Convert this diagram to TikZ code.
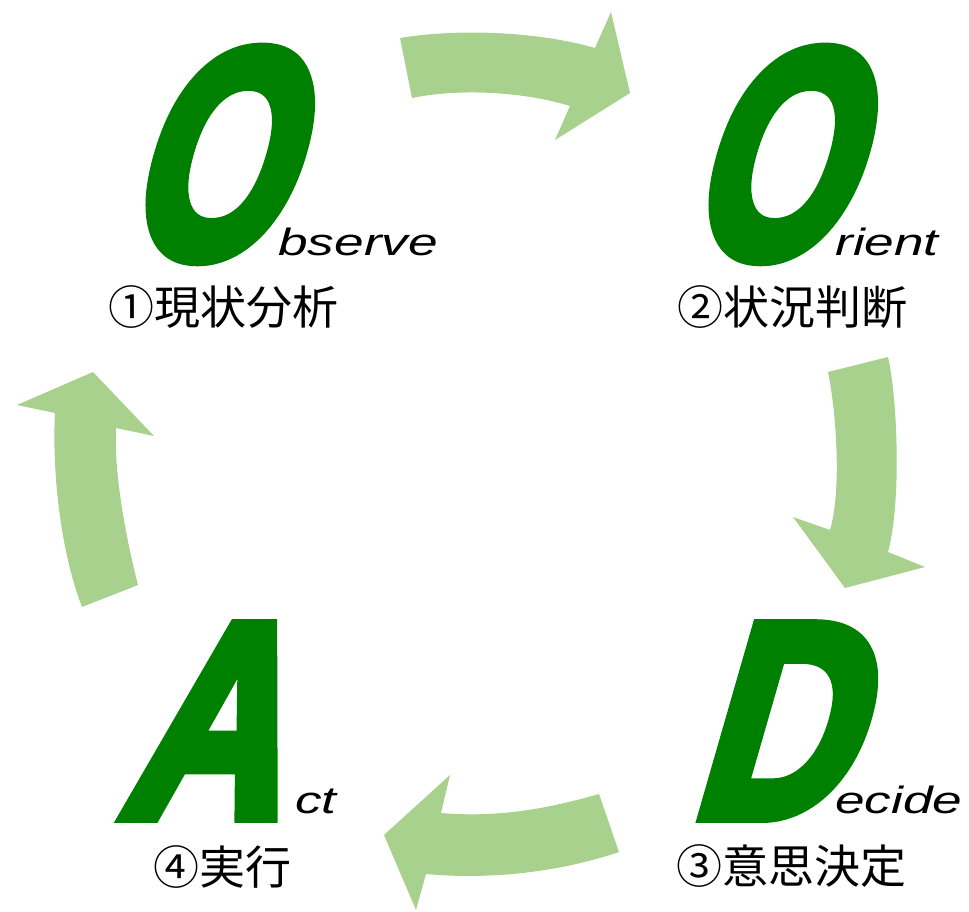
\documentclass[tikz,border=0pt]{standalone}
\usepackage{fontspec}
\setmainfont{Liberation Sans}
\newfontfamily\jpfont{Noto Sans CJK JP}
\newfontfamily\bigfont{Liberation Sans}[BoldFeatures={FakeBold=5}]
\usepackage{tikz}

\definecolor{lettergreen}{RGB}{0,128,0}
\definecolor{arrowgreen}{RGB}{169,209,142}

\begin{document}
\begin{tikzpicture}[x=1pt, y=-1pt,
    big/.style={inner sep=0pt, anchor=base west, text depth=0pt, text=lettergreen, xscale=0.8, xslant=0.36,
      font=\bigfont\fontsize{276}{276}\selectfont\bfseries},
    bigo/.style={big, xscale=0.87, font=\bigfont\fontsize{295}{295}\selectfont\bfseries},
    small/.style={inner sep=0pt, anchor=base west, xscale=1.4, font=\fontsize{38}{38}\selectfont\itshape},
    jp/.style={inner sep=0pt, font=\jpfont\fontsize{46}{46}\selectfont}]
    \useasboundingbox (0,0) rectangle (969,911);
    \fill[arrowgreen] (400,38) .. controls (460,28) and (540,32) .. (595,48) -- (611,12) -- (630,93)
          -- (555,140) -- (570,106) .. controls (525,92) and (460,88) .. (412,98) -- cycle;
    \fill[arrowgreen] (828,372) -- (888,357) .. controls (897,395) and (902,500) .. (888,552) -- (925,567)
          -- (845,588) -- (793,517) -- (830,530) .. controls (842,490) and (836,410) .. (828,372) -- cycle;
    \fill[arrowgreen] (599,794) -- (619,852) .. controls (560,872) and (490,880) .. (426,874) -- (416,910)
          -- (384,835) -- (450,775) -- (441,813) .. controls (500,818) and (550,808) .. (599,794) -- cycle;
    \fill[arrowgreen] (82,607) -- (138,585) .. controls (124,530) and (114,470) .. (116,428) -- (154,436)
          -- (93,372) -- (17,405) -- (55,413) .. controls (52,470) and (60,550) .. (82,607) -- cycle;
    \node[bigo] (O1) at (121,256) {O};
    \node[small] (obs) at (278,255) {bserve};
    \node[jp] (step1) at (223,307) {①現状分析};
    \node[bigo] (O2) at (684,256) {O};
    \node[small] (ori) at (835,255) {rient};
    \node[jp] (step2) at (792,307) {②状況判断};
    \node[big] (D) at (688,816) {D};
    \node[small] (dec) at (835,813) {ecide};
    \node[jp] (step3) at (791,866) {③意思決定};
    \node[big] (A) at (118,816) {A};
    \node[small] (act) at (295,813) {ct};
    \node[jp] (step4) at (222,867) {④実行};
\end{tikzpicture}
\end{document}
